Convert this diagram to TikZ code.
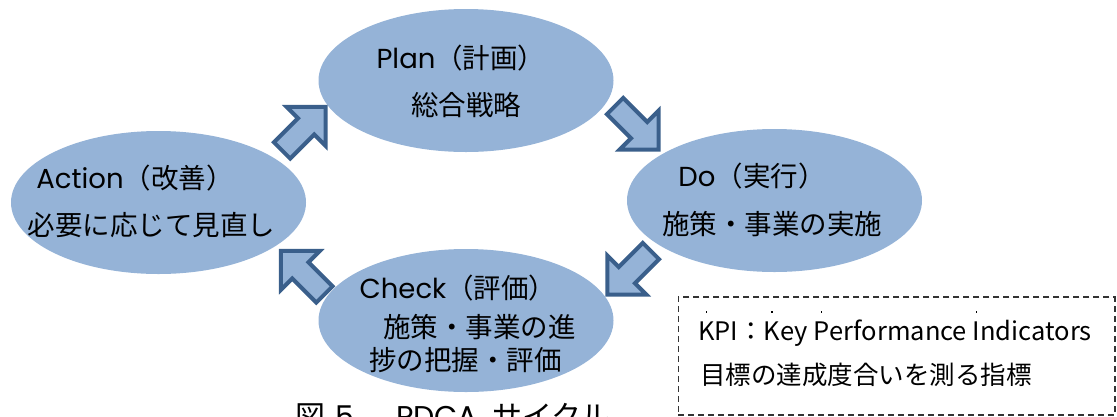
\documentclass[tikz,border=0pt]{standalone}
\usepackage{fontspec}
\setmainfont{Noto Sans CJK JP}
\newfontfamily\lat{Poppins}
\usetikzlibrary{shapes.geometric}
\definecolor{ellfill}{HTML}{95B3D7}
\definecolor{arrline}{HTML}{3A5F8B}
\newcommand\bouten[1]{\ooalign{#1\cr\hidewidth\raisebox{1.08em}{\rule{1.8pt}{1.8pt}}\hidewidth\cr}}
\tikzset{
  phase/.style={ellipse, fill=ellfill, draw=none, minimum width=295pt, minimum height=143pt, inner sep=0pt},
  txt/.style={inner sep=0pt, font=\fontsize{27.5pt}{33pt}\selectfont, text=black},
  kpitxt/.style={inner sep=0pt, font=\fontsize{25.5pt}{30pt}\selectfont, text=black, anchor=west},
  barrow/.style={fill=ellfill, draw=arrline, line width=4pt, miter limit=10},
  blockarrow/.pic={\draw[barrow] (-31,-11.5) -- (3,-11.5) -- (3,-27.5) -- (30.5,0) -- (3,27.5) -- (3,11.5) -- (-31,11.5) -- cycle;},
  kpibox/.style={draw=black!80, line width=1.5pt, dash pattern=on 6pt off 4pt}
}
\begin{document}
\begin{tikzpicture}[x=1pt, y=-1pt]
\useasboundingbox (0,0) rectangle (1117,416);
\clip (0,0) rectangle (1117,416);
% ellipses
\node[phase] (plan) at (466,80.5) {};
\node[phase] (do) at (774.5,200.5) {};
\node[phase] (action) at (158.5,202.5) {};
\node[phase] (check) at (466,320.5) {};
% block arrows
\pic (a1) [rotate=45] at (304,128.5) {blockarrow};
\pic (a2) [rotate=-45] at (637,128) {blockarrow};
\pic (a3) [rotate=-135] at (629,273) {blockarrow};
\pic (a4) [rotate=135] at (302.5,272.5) {blockarrow};
% texts
\node[txt] (plant) at (461,58) {{\lat Plan}（計画）};
\node[txt] (plans) at (466,105) {総合戦略};
\node[txt] (dot) at (752,176) {{\lat Do}（実行）};
\node[txt] (dos) at (772,224) {施策・事業の実施};
\node[txt] (actt) at (135,178) {{\lat Action}（改善）};
\node[txt] (acts) at (151.5,225) {必要に応じて見直し};
\node[txt] (chkt) at (458,288) {{\lat Check}（評価）};
\node[txt] (chks1) at (479.5,327) {施策・事業の進};
\node[txt] (chks2) at (465.5,360) {捗の把握・評価};
% KPI box
\node[kpibox, minimum width=436.5pt, minimum height=118pt, inner sep=0pt] (kpi) at (896.5,356) {};
\node[kpitxt] (kpi1) at (698,333) {\bouten{K}PI：\bouten{K}ey \bouten{P}erformance \bouten{I}ndicators};
\node[kpitxt] (kpi2) at (700,375) {目標の達成度合いを測る指標};
% caption (cut off by the page edge, as in the reference)
\node[inner sep=0pt, anchor=base west, font=\fontsize{30pt}{36pt}\selectfont] (cap) at (295,427) {図\hspace{10pt}{\lat 5}\hspace{42pt}{\lat PDCA}\hspace{14pt}サイクル};
\end{tikzpicture}
\end{document}
